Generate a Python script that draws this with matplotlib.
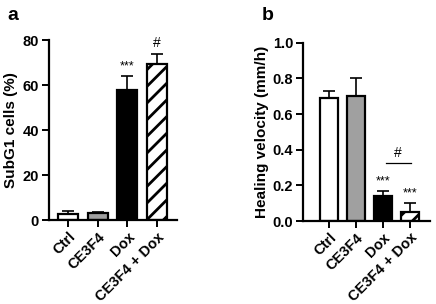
import numpy as np
import matplotlib
matplotlib.use("Agg")
from matplotlib import pyplot as plt

plt.rcParams['font.family'] = ['Liberation Sans', 'DejaVu Sans']
plt.rcParams['hatch.linewidth'] = 2.0

groups = ["Ctrl", "CE3F4", "Dox", "CE3F4 + Dox"]
colors = ["white", "#a0a0a0", "black", "white"]
hatches = [None, None, None, "//"]

subg1 = [2.5, 3.0, 58.0, 69.5]
subg1_err = [1.7, 0.8, 6.0, 4.5]
subg1_marks = ["", "", "***", "#"]

heal = [0.69, 0.70, 0.14, 0.05]
heal_err = [0.04, 0.10, 0.03, 0.05]
heal_marks = ["", "", "***", "***"]

fig = plt.figure(figsize=(4.36, 3.04), dpi=100)
axa = fig.add_axes([0.112, 0.276, 0.294, 0.592])
axb = fig.add_axes([0.695, 0.273, 0.291, 0.586])


def draw(ax, vals, errs, marks, ymax, step, ylabel, xlim, fmt):
    x = np.arange(len(groups))
    for i in range(len(groups)):
        ax.bar(x[i], vals[i], width=0.67, color=colors[i], edgecolor="black",
               linewidth=1.6, hatch=hatches[i], zorder=2)
        ax.errorbar(x[i], vals[i], yerr=[[0], [errs[i]]], fmt="none",
                    ecolor="black", elinewidth=1.2, capsize=4, capthick=1.2, zorder=1)
        if marks[i]:
            fs = 9 if marks[i] == "***" else 10
            ax.text(x[i], vals[i] + errs[i] + ymax * 0.02, marks[i], ha="center",
                    va="bottom", fontsize=fs)
    ax.set_ylim(0, ymax)
    ax.set_xlim(*xlim)
    ax.set_yticks(np.arange(0, ymax + step / 2, step))
    ax.set_yticklabels([fmt.format(v) for v in np.arange(0, ymax + step / 2, step)])
    ax.set_xticks(x)
    ax.set_xticklabels(groups, rotation=45, ha="right", rotation_mode="anchor")
    ax.spines[["top", "right"]].set_visible(False)
    ax.spines[["left", "bottom"]].set_linewidth(1.6)
    ax.tick_params(width=1.4, length=5, labelsize=10.5, pad=2)
    for lab in ax.get_xticklabels() + ax.get_yticklabels():
        lab.set_fontweight("bold")
    ax.set_ylabel(ylabel, fontsize=11, fontweight="bold", labelpad=3)
    ax.set_clip_on(False)


draw(axa, subg1, subg1_err, subg1_marks, 80, 20, "SubG1 cells (%)", (-0.64, 3.67), "{:.0f}")
draw(axb, heal, heal_err, heal_marks, 1.0, 0.2, "Healing velocity (mm/h)", (-0.96, 3.74), "{:.1f}")

# Dox vs CE3F4 + Dox comparison line
axb.plot([2.1, 3.05], [0.325, 0.325], color="black", lw=0.9)
axb.text(2.55, 0.34, "#", ha="center", va="bottom", fontsize=10)

fig.text(0.016, 0.95, "a", fontsize=14, fontweight="bold", va="center")
fig.text(0.6, 0.95, "b", fontsize=14, fontweight="bold", va="center")

fig.savefig("out.png", dpi=100)
